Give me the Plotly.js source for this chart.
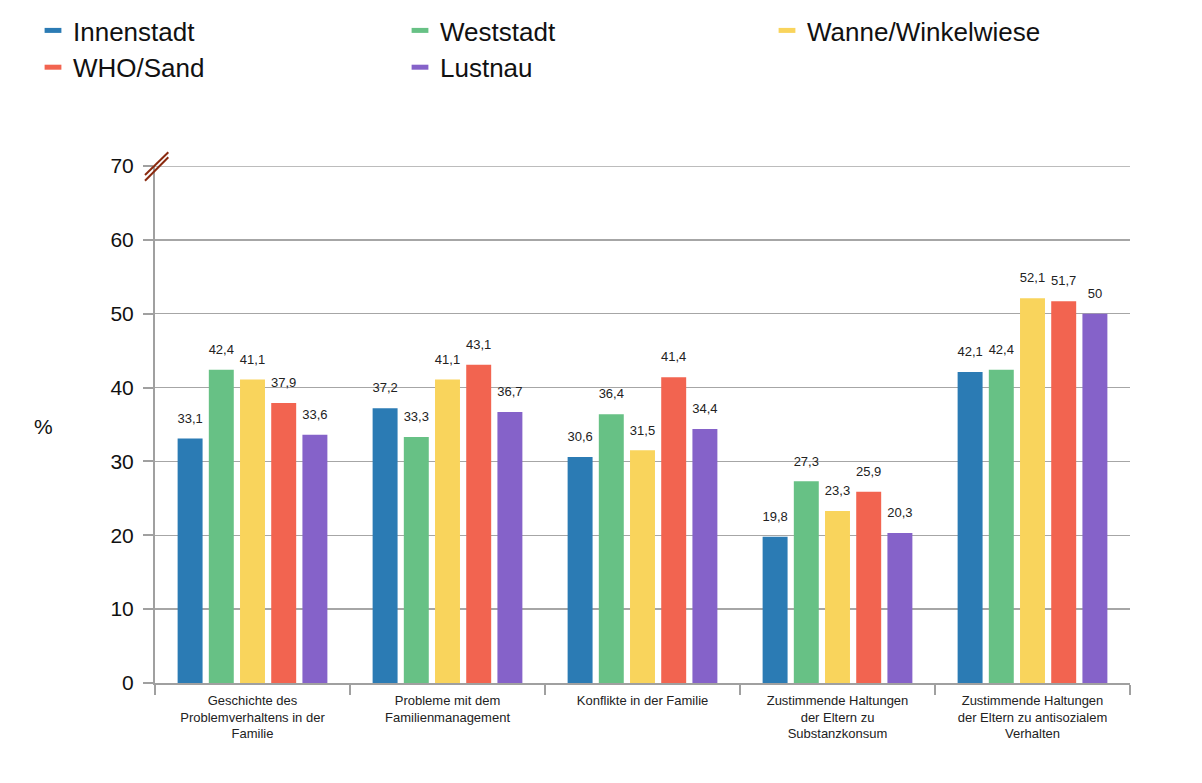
<!DOCTYPE html>
<html>
<head>
<meta charset="utf-8">
<script src="https://cdn.plot.ly/plotly-3.0.1.min.js"></script>
<style>
  html, body { margin: 0; padding: 0; background: #fff; }
  #chart { width: 1202px; height: 783px; }
</style>
</head>
<body>
<div id="chart"></div>
<script>
const categories = [
  "Geschichte des<br>Problemverhaltens in der<br>Familie",
  "Probleme mit dem<br>Familienmanagement",
  "Konflikte in der Familie",
  "Zustimmende Haltungen<br>der Eltern zu<br>Substanzkonsum",
  "Zustimmende Haltungen<br>der Eltern zu antisozialem<br>Verhalten"
];
const seriesNames = ["Innenstadt", "Weststadt", "Wanne/Winkelwiese", "WHO/Sand", "Lustnau"];
const innenstadt = [33.1, 37.2, 30.6, 19.8, 42.1];
const weststadt  = [42.4, 33.3, 36.4, 27.3, 42.4];
const wanne      = [41.1, 41.1, 31.5, 23.3, 52.1];
const whoSand    = [37.9, 43.1, 41.4, 25.9, 51.7];
const lustnau    = [33.6, 36.7, 34.4, 20.3, 50];
const colors = ["#2b7bb4", "#67c185", "#f9d45c", "#f26450", "#8562c9"];
const yTicks = [0, 10, 20, 30, 40, 50, 60, 70];

const allValues = [innenstadt, weststadt, wanne, whoSand, lustnau];
const fmt = v => String(v).replace('.', ',');

const barTraces = allValues.map((vals, i) => ({
  type: 'bar',
  name: seriesNames[i],
  x: categories,
  y: vals,
  showlegend: false,
  offsetgroup: 'g' + i,
  marker: { color: colors[i], line: { width: 0 } },
  hoverinfo: 'skip'
}));

// value labels above the bars (grouped like the bars)
const labelTraces = allValues.map((vals, i) => ({
  type: 'scatter',
  mode: 'markers+text',
  name: seriesNames[i] + ' labels',
  x: categories,
  y: vals,
  showlegend: false,
  offsetgroup: 'g' + i,
  marker: { size: 18.5, opacity: 0, color: colors[i] },
  text: vals.map(fmt),
  textposition: 'top center',
  textfont: { family: 'Liberation Sans, Arial, sans-serif', size: 13, color: '#222' },
  cliponaxis: false,
  hoverinfo: 'skip'
}));

// legend entries (horizontal bar-shaped swatches)
const legendTraces = seriesNames.map((n, i) => ({
  type: 'scatter',
  mode: 'markers',
  name: n,
  x: [null],
  y: [null],
  marker: { symbol: 'line-ew', size: 12, color: colors[i], line: { color: colors[i], width: 8 } },
  hoverinfo: 'skip'
}));

const toPX = px => (px - 155) / 975;
const toPY = py => (683 - py) / 517;

const layout = {
  width: 1202,
  height: 783,
  margin: { l: 155, r: 72, t: 166, b: 100, autoexpand: false },
  paper_bgcolor: '#ffffff',
  plot_bgcolor: '#ffffff',
  font: { family: 'Liberation Sans, Arial, sans-serif', color: '#222' },
  barmode: 'group',
  bargap: 0.2,
  bargroupgap: 0.2,
  scattermode: 'group',
  scattergap: 0.2,
  showlegend: true,
  legend: {
    orientation: 'h',
    x: toPX(33),
    xanchor: 'left',
    y: toPY(7),
    yanchor: 'top',
    font: { size: 26, color: '#111' },
    entrywidth: 322,
    entrywidthmode: 'pixels',
    tracegroupgap: 0,
    itemclick: false
  },
  xaxis: {
    type: 'category',
    tickson: 'boundaries',
    ticks: 'outside',
    ticklen: 10,
    tickwidth: 2,
    tickcolor: '#a0a0a0',
    ticklabelstandoff: 4,
    showline: true,
    linecolor: '#a0a0a0',
    linewidth: 2,
    showgrid: false,
    tickfont: { size: 13, color: '#222' },
    fixedrange: true
  },
  yaxis: {
    range: [0, 70],
    tickvals: yTicks,
    ticktext: yTicks.map(String),
    ticks: 'outside',
    ticklen: 10,
    tickwidth: 2,
    tickcolor: '#a0a0a0',
    ticklabelstandoff: 5,
    showline: true,
    linecolor: '#a0a0a0',
    linewidth: 2,
    showgrid: true,
    gridcolor: '#a6a6a6',
    gridwidth: 1.5,
    zeroline: false,
    tickfont: { size: 21, color: '#111' },
    fixedrange: true
  },
  annotations: [
    {
      text: '%',
      xref: 'paper', yref: 'paper',
      x: toPX(43), y: toPY(426),
      xanchor: 'center', yanchor: 'middle',
      showarrow: false,
      font: { size: 21, color: '#111' }
    }
  ],
  shapes: [
    {
      type: 'line', xref: 'paper', yref: 'y',
      x0: 0, x1: 1, y0: 70, y1: 70,
      line: { color: '#a6a6a6', width: 1.5 }
    },
    {
      type: 'line', xref: 'paper', yref: 'paper',
      x0: toPX(145), y0: toPY(175), x1: toPX(168.3), y1: toPY(152.3),
      line: { color: '#8a2a0f', width: 2 }
    },
    {
      type: 'line', xref: 'paper', yref: 'paper',
      x0: toPX(145), y0: toPY(180.7), x1: toPX(168.3), y1: toPY(157.3),
      line: { color: '#8a2a0f', width: 2 }
    }
  ]
};

Plotly.newPlot('chart', barTraces.concat(labelTraces, legendTraces), layout, { displayModeBar: false, staticPlot: true });
</script>
</body>
</html>
